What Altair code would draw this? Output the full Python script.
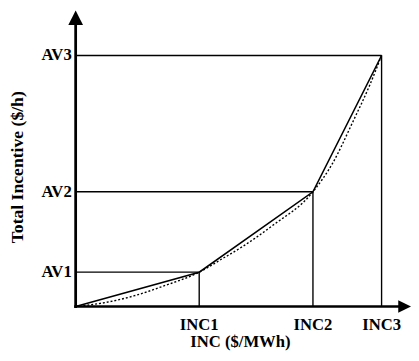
import altair as alt
import pandas as pd

# key values (abstract units)
inc_labels = ["INC1", "INC2", "INC3"]
inc_values = [126, 242, 312]
av_labels = ["AV1", "AV2", "AV3"]
av_values = [35, 117, 256]

# dotted reference curve
curve_x = [0, 30, 60, 90, 126, 150, 170, 200, 242, 262, 283, 300, 312]
curve_y = [0, 4, 11, 21, 35, 49, 61, 82, 117, 146, 189, 226, 256]

x_title = "INC ($/MWh)"
y_title = "Total Incentive ($/h)"

FONT = "Liberation Serif"
FS = 17

xs = alt.Scale(domain=[0, 342], range=[0, 342], zero=False, nice=False)
ys = alt.Scale(domain=[0, 300], zero=False, nice=False)

piece = pd.DataFrame({"x": [0] + inc_values, "y": [0] + av_values, "o": range(4)})
curve = pd.DataFrame({"x": curve_x, "y": curve_y, "o": range(len(curve_x))})
guides = pd.DataFrame({"inc": inc_values, "av": av_values, "ilab": inc_labels, "alab": av_labels,
                       "zero": [0, 0, 0]})

X = lambda f: alt.X(f, scale=xs, axis=None)
Y = lambda f: alt.Y(f, scale=ys, axis=None)

solid = alt.Chart(piece).mark_line(color="black", strokeWidth=1.6, clip=False).encode(
    x=X("x:Q"), y=Y("y:Q"), order="o:Q")
dotted = alt.Chart(curve).mark_line(color="black", strokeWidth=1.4, strokeDash=[2, 2],
                                    interpolate="monotone", clip=False).encode(
    x=X("x:Q"), y=Y("y:Q"), order="o:Q")

hrules = alt.Chart(guides).mark_rule(color="black", strokeWidth=1.4).encode(
    x=X("zero:Q"), x2="inc:Q", y=Y("av:Q"))
vrules = alt.Chart(guides).mark_rule(color="black", strokeWidth=1.4).encode(
    x=X("inc:Q"), y=Y("zero:Q"), y2="av:Q")

axes = pd.DataFrame({"x": [-1.5, 0], "y": [0, -1.5], "x2": [332, 0], "y2": [0, 290]})
axis_lines = alt.Chart(axes).mark_rule(color="black", strokeWidth=2.8, clip=False).encode(
    x=X("x:Q"), y=Y("y:Q"), x2="x2:Q", y2="y2:Q")

arrow_shape = "M0,-1L1,1L-1,1Z"
arrows_df = pd.DataFrame({"x": [0, 335.5], "y": [294.5, 0], "a": [0, 90], "s": [225, 169]})
arrows = alt.Chart(arrows_df).mark_point(shape=arrow_shape, filled=True, color="black",
                                         opacity=1, clip=False).encode(
    x=X("x:Q"), y=Y("y:Q"), angle=alt.Angle("a:Q", scale=None),
    size=alt.Size("s:Q", scale=None))

ylabels = alt.Chart(guides).mark_text(font=FONT, fontWeight="bold", fontSize=FS, align="right",
                                      baseline="middle", dx=-4, clip=False).encode(
    x=X("zero:Q"), y=Y("av:Q"), text="alab:N")
xlabels = alt.Chart(guides).mark_text(font=FONT, fontWeight="bold", fontSize=FS, align="center",
                                      baseline="middle", clip=False).encode(
    x=X("inc:Q"), y=alt.value(319), text="ilab:N")

xt = alt.Chart(pd.DataFrame({"t": [x_title]})).mark_text(
    font=FONT, fontWeight="bold", fontSize=FS, align="center", baseline="middle").encode(
    x=alt.value(168), y=alt.value(336), text="t:N")
yt = alt.Chart(pd.DataFrame({"t": [y_title]})).mark_text(
    font=FONT, fontWeight="bold", fontSize=18, align="center", baseline="middle", angle=270).encode(
    x=alt.value(-59), y=alt.value(158), text="t:N")

chart = alt.layer(hrules, vrules, dotted, solid, axis_lines, arrows, ylabels, xlabels, xt, yt).properties(
    width=342, height=300,
    autosize=alt.AutoSizeParams(type="none"),
    padding={"left": 69, "top": 1, "right": 0, "bottom": 44},
).configure_view(stroke=None)

chart.save("out.html", embed_options={"renderer": "svg", "actions": False})
